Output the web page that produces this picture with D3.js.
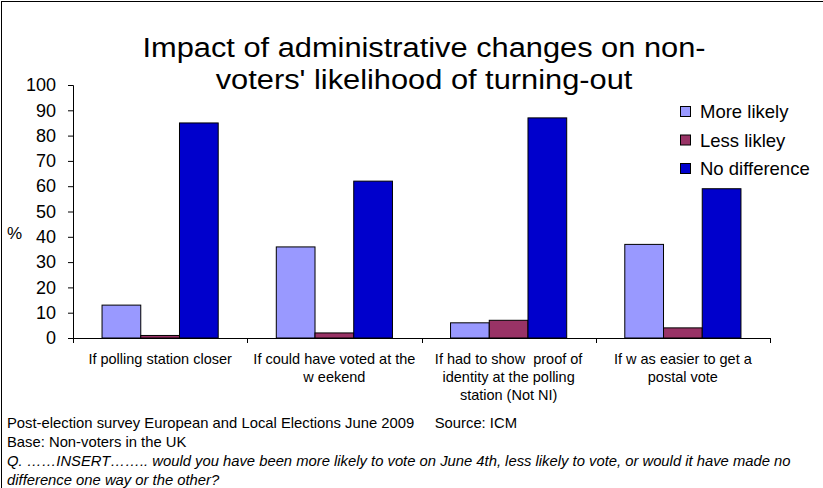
<!DOCTYPE html>
<html>
<head>
<meta charset="utf-8">
<script src="https://cdn.jsdelivr.net/npm/d3@7"></script>
<style>
  html, body { margin: 0; padding: 0; background: #fff; }
  svg { display: block; font-family: "Liberation Sans", Arial, sans-serif; }
</style>
</head>
<body>
<svg id="chart" width="823" height="488"></svg>
<script>
// Survey results: share of non-voters (%) by administrative change
const categories = [
  "If polling station closer",
  "If could have voted at the weekend",
  "If had to show proof of identity at the polling station (Not NI)",
  "If was easier to get a postal vote"
];
const categoryLines = [
  ["If polling station closer"],
  ["If could have voted at the", "w eekend"],
  ["If had to show  proof of", "identity at the polling", "station (Not NI)"],
  ["If w as easier to get a", "postal vote"]
];
const seriesNames = ["More likely", "Less likley", "No difference"];
const moreLikely   = [13, 36, 6, 37];
const lessLikely   = [1, 2, 7, 4];
const noDifference = [85, 62, 87, 59];
const seriesValues = [moreLikely, lessLikely, noDifference];
const yTicks = [0, 10, 20, 30, 40, 50, 60, 70, 80, 90, 100];
const titleLines = ["Impact of administrative changes on non-", "voters' likelihood of turning-out"];
const footerLines = [
  "Post-election survey European and Local Elections June 2009     Source: ICM",
  "Base: Non-voters in the UK",
  "Q. ……INSERT…….. would you have been more likely to vote on June 4th, less likely to vote, or would it have made no",
  "difference one way or the other?"
];

const colors = ["#9999FF", "#993366", "#0000CC"];

const svg = d3.select("#chart");

// outer frame
svg.append("rect")
  .attr("x", 1.5).attr("y", 1.5)
  .attr("width", 900).attr("height", 600)
  .attr("fill", "none").attr("stroke", "#000").attr("stroke-width", 1);

const plot = { left: 73, right: 770, top: 85, bottom: 338 };

const x0 = d3.scaleBand().domain(categories).range([plot.left, plot.right]).padding(0);
const x1 = d3.scaleBand().domain(seriesNames)
  .range([x0.bandwidth() / 6, x0.bandwidth() * 5 / 6]).padding(0);
const y = d3.scaleLinear().domain([0, 100]).range([plot.bottom, plot.top]);

// title: two lines, slightly widened lettering
svg.append("g")
  .attr("transform", "translate(424,0) scale(1.1,1)")
  .selectAll("text").data(titleLines).join("text")
  .attr("x", 0)
  .attr("y", (d, i) => 57 + i * 32.5)
  .attr("text-anchor", "middle")
  .attr("font-size", 28)
  .attr("fill", "#000")
  .text(d => d);

// bars
const groups = svg.append("g").selectAll("g").data(categories).join("g")
  .attr("transform", d => `translate(${x0(d)},0)`);

groups.selectAll("rect")
  .data((c, ci) => seriesNames.map((s, si) => ({ s, si, v: seriesValues[si][ci] })))
  .join("rect")
  .attr("x", d => x1(d.s))
  .attr("y", d => y(d.v))
  .attr("width", x1.bandwidth())
  .attr("height", d => y(0) - y(d.v))
  .attr("fill", d => colors[d.si])
  .attr("stroke", "#000")
  .attr("stroke-width", 1);

// y axis
const yAxis = d3.axisLeft(y).tickValues(yTicks).tickSize(5).tickPadding(12);
const yg = svg.append("g")
  .attr("transform", `translate(${plot.left},0)`)
  .call(yAxis);
yg.select(".domain").attr("stroke", "#000");
yg.selectAll(".tick line").attr("stroke", "#000");
yg.selectAll(".tick text")
  .attr("font-size", 18)
  .attr("font-family", "Liberation Sans, Arial, sans-serif")
  .attr("fill", "#000");

// x axis line and category ticks
const xg = svg.append("g");
xg.append("line")
  .attr("x1", plot.left).attr("x2", plot.right)
  .attr("y1", plot.bottom + 0.5).attr("y2", plot.bottom + 0.5)
  .attr("stroke", "#000");
const bounds = categories.map(c => x0(c)).concat([x0.range()[1]]);
xg.selectAll("line.tk").data(bounds).join("line")
  .attr("class", "tk")
  .attr("x1", d => Math.round(d) + 0.5).attr("x2", d => Math.round(d) + 0.5)
  .attr("y1", plot.bottom).attr("y2", plot.bottom + 5)
  .attr("stroke", "#000");

// category labels
categories.forEach((c, ci) => {
  svg.append("text")
    .attr("text-anchor", "middle")
    .attr("font-size", 14.5)
    .attr("fill", "#000")
    .attr("xml:space", "preserve")
    .style("white-space", "pre")
    .selectAll("tspan").data(categoryLines[ci]).join("tspan")
    .attr("x", x0(c) + x0.bandwidth() / 2)
    .attr("y", (d, i) => 364 + i * 18)
    .text(d => d);
});

// y axis title
svg.append("text")
  .attr("x", 7).attr("y", 239)
  .attr("font-size", 17)
  .attr("fill", "#000")
  .text("%");

// legend
const legend = svg.append("g").selectAll("g").data(seriesNames).join("g")
  .attr("transform", (d, i) => `translate(680,${112 + i * 28.5})`);
legend.append("rect")
  .attr("x", 0.5).attr("y", -5.5)
  .attr("width", 10).attr("height", 10)
  .attr("fill", (d, i) => colors[i])
  .attr("stroke", "#000");
legend.append("text")
  .attr("x", 20).attr("y", 6)
  .attr("font-size", 18.5)
  .attr("fill", "#000")
  .text(d => d);

// footer notes
svg.append("g").selectAll("text").data(footerLines).join("text")
  .attr("x", 7).attr("y", (d, i) => 428 + i * 19)
  .attr("font-size", 14.8)
  .attr("font-style", (d, i) => i >= 2 ? "italic" : "normal")
  .attr("fill", "#000")
  .attr("xml:space", "preserve")
  .style("white-space", "pre")
  .text(d => d);
</script>
</body>
</html>
